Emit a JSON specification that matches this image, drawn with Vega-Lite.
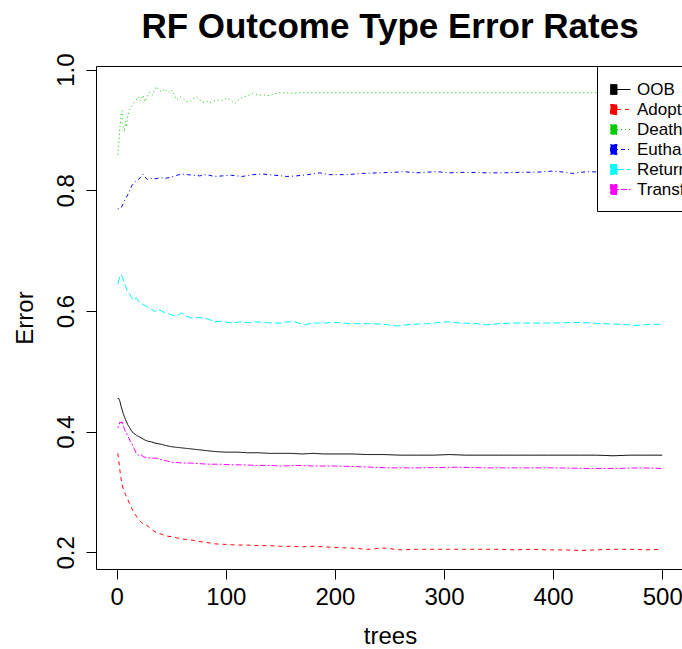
{
"$schema": "https://vega.github.io/schema/vega-lite/v6.json",
"width": 588, "height": 503,
"autosize": {"type": "none"},
"padding": {"left": 96, "top": 66, "right": 0, "bottom": 80},
"background": "white",
"title": {"text": "RF Outcome Type Error Rates", "font": "Liberation Sans", "fontSize": 35, "fontWeight": "bold", "color": "black", "anchor": "middle", "frame": "group", "baseline": "alphabetic", "offset": -20},
"config": {
  "view": {"stroke": "black", "strokeWidth": 1},
  "axis": {"domain": false, "grid": false, "ticks": true, "tickColor": "black", "tickSize": 10, "tickWidth": 1, "labelFont": "Liberation Sans", "labelFontSize": 24, "labelColor": "black", "titleFont": "Liberation Sans", "titleFontSize": 24, "titleFontWeight": "normal", "titleColor": "black"}
},
"data": {"values": [
{"t":1,"s":"OOB","v":0.455},{"t":2,"s":"OOB","v":0.455},{"t":3,"s":"OOB","v":0.450},{"t":4,"s":"OOB","v":0.442},{"t":5,"s":"OOB","v":0.436},{"t":6,"s":"OOB","v":0.430},{"t":8,"s":"OOB","v":0.420},{"t":10,"s":"OOB","v":0.412},{"t":12,"s":"OOB","v":0.406},{"t":14,"s":"OOB","v":0.400},{"t":16,"s":"OOB","v":0.397},{"t":18,"s":"OOB","v":0.394},{"t":20,"s":"OOB","v":0.392},{"t":23,"s":"OOB","v":0.389},{"t":26,"s":"OOB","v":0.386},{"t":29,"s":"OOB","v":0.384},{"t":32,"s":"OOB","v":0.383},{"t":35,"s":"OOB","v":0.381},{"t":38,"s":"OOB","v":0.380},{"t":41,"s":"OOB","v":0.379},{"t":45,"s":"OOB","v":0.377},{"t":50,"s":"OOB","v":0.375},{"t":55,"s":"OOB","v":0.374},{"t":60,"s":"OOB","v":0.373},{"t":65,"s":"OOB","v":0.372},{"t":70,"s":"OOB","v":0.371},{"t":75,"s":"OOB","v":0.370},{"t":80,"s":"OOB","v":0.369},{"t":90,"s":"OOB","v":0.367},{"t":100,"s":"OOB","v":0.366},{"t":110,"s":"OOB","v":0.366},{"t":120,"s":"OOB","v":0.365},{"t":130,"s":"OOB","v":0.365},{"t":140,"s":"OOB","v":0.364},{"t":150,"s":"OOB","v":0.364},{"t":160,"s":"OOB","v":0.364},{"t":170,"s":"OOB","v":0.363},{"t":180,"s":"OOB","v":0.364},{"t":190,"s":"OOB","v":0.363},{"t":200,"s":"OOB","v":0.363},{"t":215,"s":"OOB","v":0.363},{"t":230,"s":"OOB","v":0.362},{"t":245,"s":"OOB","v":0.362},{"t":260,"s":"OOB","v":0.361},{"t":275,"s":"OOB","v":0.361},{"t":290,"s":"OOB","v":0.361},{"t":305,"s":"OOB","v":0.362},{"t":320,"s":"OOB","v":0.361},{"t":335,"s":"OOB","v":0.361},{"t":350,"s":"OOB","v":0.361},{"t":365,"s":"OOB","v":0.361},{"t":380,"s":"OOB","v":0.361},{"t":395,"s":"OOB","v":0.361},{"t":410,"s":"OOB","v":0.361},{"t":425,"s":"OOB","v":0.361},{"t":440,"s":"OOB","v":0.361},{"t":455,"s":"OOB","v":0.360},{"t":470,"s":"OOB","v":0.361},{"t":485,"s":"OOB","v":0.361},{"t":500,"s":"OOB","v":0.361},
{"t":1,"s":"Adoption","v":0.364},{"t":2,"s":"Adoption","v":0.350},{"t":3,"s":"Adoption","v":0.335},{"t":4,"s":"Adoption","v":0.322},{"t":5,"s":"Adoption","v":0.313},{"t":6,"s":"Adoption","v":0.305},{"t":8,"s":"Adoption","v":0.296},{"t":10,"s":"Adoption","v":0.288},{"t":12,"s":"Adoption","v":0.280},{"t":14,"s":"Adoption","v":0.272},{"t":16,"s":"Adoption","v":0.266},{"t":18,"s":"Adoption","v":0.260},{"t":20,"s":"Adoption","v":0.255},{"t":23,"s":"Adoption","v":0.249},{"t":26,"s":"Adoption","v":0.246},{"t":29,"s":"Adoption","v":0.243},{"t":32,"s":"Adoption","v":0.238},{"t":35,"s":"Adoption","v":0.234},{"t":38,"s":"Adoption","v":0.232},{"t":41,"s":"Adoption","v":0.230},{"t":45,"s":"Adoption","v":0.227},{"t":50,"s":"Adoption","v":0.226},{"t":55,"s":"Adoption","v":0.224},{"t":60,"s":"Adoption","v":0.222},{"t":65,"s":"Adoption","v":0.221},{"t":70,"s":"Adoption","v":0.220},{"t":75,"s":"Adoption","v":0.218},{"t":80,"s":"Adoption","v":0.217},{"t":90,"s":"Adoption","v":0.214},{"t":100,"s":"Adoption","v":0.213},{"t":110,"s":"Adoption","v":0.212},{"t":120,"s":"Adoption","v":0.212},{"t":130,"s":"Adoption","v":0.211},{"t":140,"s":"Adoption","v":0.211},{"t":150,"s":"Adoption","v":0.210},{"t":160,"s":"Adoption","v":0.210},{"t":170,"s":"Adoption","v":0.209},{"t":180,"s":"Adoption","v":0.210},{"t":190,"s":"Adoption","v":0.209},{"t":200,"s":"Adoption","v":0.208},{"t":215,"s":"Adoption","v":0.207},{"t":230,"s":"Adoption","v":0.205},{"t":245,"s":"Adoption","v":0.207},{"t":260,"s":"Adoption","v":0.204},{"t":275,"s":"Adoption","v":0.205},{"t":290,"s":"Adoption","v":0.205},{"t":305,"s":"Adoption","v":0.205},{"t":320,"s":"Adoption","v":0.205},{"t":335,"s":"Adoption","v":0.205},{"t":350,"s":"Adoption","v":0.205},{"t":365,"s":"Adoption","v":0.204},{"t":380,"s":"Adoption","v":0.205},{"t":395,"s":"Adoption","v":0.204},{"t":410,"s":"Adoption","v":0.204},{"t":425,"s":"Adoption","v":0.203},{"t":440,"s":"Adoption","v":0.204},{"t":455,"s":"Adoption","v":0.205},{"t":470,"s":"Adoption","v":0.205},{"t":485,"s":"Adoption","v":0.204},{"t":500,"s":"Adoption","v":0.205},
{"t":1,"s":"Death","v":0.859},{"t":2,"s":"Death","v":0.880},{"t":3,"s":"Death","v":0.905},{"t":4,"s":"Death","v":0.925},{"t":5,"s":"Death","v":0.932},{"t":6,"s":"Death","v":0.905},{"t":7,"s":"Death","v":0.897},{"t":8,"s":"Death","v":0.915},{"t":9,"s":"Death","v":0.905},{"t":10,"s":"Death","v":0.922},{"t":12,"s":"Death","v":0.934},{"t":14,"s":"Death","v":0.940},{"t":16,"s":"Death","v":0.945},{"t":18,"s":"Death","v":0.950},{"t":20,"s":"Death","v":0.955},{"t":22,"s":"Death","v":0.948},{"t":24,"s":"Death","v":0.958},{"t":26,"s":"Death","v":0.947},{"t":28,"s":"Death","v":0.955},{"t":30,"s":"Death","v":0.963},{"t":33,"s":"Death","v":0.958},{"t":36,"s":"Death","v":0.972},{"t":39,"s":"Death","v":0.966},{"t":41,"s":"Death","v":0.963},{"t":44,"s":"Death","v":0.968},{"t":47,"s":"Death","v":0.962},{"t":50,"s":"Death","v":0.967},{"t":53,"s":"Death","v":0.958},{"t":55,"s":"Death","v":0.950},{"t":58,"s":"Death","v":0.955},{"t":61,"s":"Death","v":0.952},{"t":64,"s":"Death","v":0.947},{"t":67,"s":"Death","v":0.947},{"t":70,"s":"Death","v":0.952},{"t":73,"s":"Death","v":0.955},{"t":76,"s":"Death","v":0.950},{"t":79,"s":"Death","v":0.946},{"t":82,"s":"Death","v":0.948},{"t":85,"s":"Death","v":0.945},{"t":88,"s":"Death","v":0.947},{"t":92,"s":"Death","v":0.950},{"t":96,"s":"Death","v":0.948},{"t":101,"s":"Death","v":0.953},{"t":104,"s":"Death","v":0.950},{"t":108,"s":"Death","v":0.944},{"t":112,"s":"Death","v":0.950},{"t":116,"s":"Death","v":0.955},{"t":120,"s":"Death","v":0.957},{"t":125,"s":"Death","v":0.961},{"t":130,"s":"Death","v":0.958},{"t":135,"s":"Death","v":0.958},{"t":140,"s":"Death","v":0.957},{"t":145,"s":"Death","v":0.960},{"t":150,"s":"Death","v":0.962},{"t":160,"s":"Death","v":0.961},{"t":170,"s":"Death","v":0.962},{"t":300,"s":"Death","v":0.962},{"t":500,"s":"Death","v":0.962},
{"t":1,"s":"Euthanasia","v":0.769},{"t":2,"s":"Euthanasia","v":0.770},{"t":4,"s":"Euthanasia","v":0.771},{"t":6,"s":"Euthanasia","v":0.778},{"t":8,"s":"Euthanasia","v":0.786},{"t":10,"s":"Euthanasia","v":0.792},{"t":12,"s":"Euthanasia","v":0.800},{"t":14,"s":"Euthanasia","v":0.808},{"t":16,"s":"Euthanasia","v":0.813},{"t":18,"s":"Euthanasia","v":0.816},{"t":20,"s":"Euthanasia","v":0.818},{"t":22,"s":"Euthanasia","v":0.822},{"t":24,"s":"Euthanasia","v":0.827},{"t":26,"s":"Euthanasia","v":0.822},{"t":28,"s":"Euthanasia","v":0.818},{"t":31,"s":"Euthanasia","v":0.820},{"t":35,"s":"Euthanasia","v":0.819},{"t":40,"s":"Euthanasia","v":0.821},{"t":45,"s":"Euthanasia","v":0.820},{"t":50,"s":"Euthanasia","v":0.822},{"t":55,"s":"Euthanasia","v":0.825},{"t":60,"s":"Euthanasia","v":0.827},{"t":65,"s":"Euthanasia","v":0.826},{"t":70,"s":"Euthanasia","v":0.825},{"t":76,"s":"Euthanasia","v":0.824},{"t":82,"s":"Euthanasia","v":0.826},{"t":90,"s":"Euthanasia","v":0.823},{"t":97,"s":"Euthanasia","v":0.824},{"t":105,"s":"Euthanasia","v":0.825},{"t":115,"s":"Euthanasia","v":0.823},{"t":125,"s":"Euthanasia","v":0.826},{"t":134,"s":"Euthanasia","v":0.827},{"t":145,"s":"Euthanasia","v":0.825},{"t":156,"s":"Euthanasia","v":0.823},{"t":165,"s":"Euthanasia","v":0.824},{"t":175,"s":"Euthanasia","v":0.826},{"t":186,"s":"Euthanasia","v":0.829},{"t":195,"s":"Euthanasia","v":0.826},{"t":211,"s":"Euthanasia","v":0.826},{"t":225,"s":"Euthanasia","v":0.828},{"t":240,"s":"Euthanasia","v":0.829},{"t":255,"s":"Euthanasia","v":0.830},{"t":263,"s":"Euthanasia","v":0.831},{"t":275,"s":"Euthanasia","v":0.829},{"t":293,"s":"Euthanasia","v":0.831},{"t":305,"s":"Euthanasia","v":0.829},{"t":320,"s":"Euthanasia","v":0.830},{"t":339,"s":"Euthanasia","v":0.829},{"t":355,"s":"Euthanasia","v":0.829},{"t":370,"s":"Euthanasia","v":0.830},{"t":385,"s":"Euthanasia","v":0.830},{"t":400,"s":"Euthanasia","v":0.832},{"t":410,"s":"Euthanasia","v":0.830},{"t":418,"s":"Euthanasia","v":0.828},{"t":431,"s":"Euthanasia","v":0.831},{"t":445,"s":"Euthanasia","v":0.830},{"t":460,"s":"Euthanasia","v":0.829},{"t":475,"s":"Euthanasia","v":0.830},{"t":490,"s":"Euthanasia","v":0.829},{"t":500,"s":"Euthanasia","v":0.830},
{"t":1,"s":"Return_to_owner","v":0.645},{"t":2,"s":"Return_to_owner","v":0.652},{"t":3,"s":"Return_to_owner","v":0.658},{"t":4,"s":"Return_to_owner","v":0.660},{"t":5,"s":"Return_to_owner","v":0.657},{"t":6,"s":"Return_to_owner","v":0.652},{"t":7,"s":"Return_to_owner","v":0.648},{"t":8,"s":"Return_to_owner","v":0.642},{"t":10,"s":"Return_to_owner","v":0.632},{"t":12,"s":"Return_to_owner","v":0.628},{"t":15,"s":"Return_to_owner","v":0.618},{"t":18,"s":"Return_to_owner","v":0.621},{"t":20,"s":"Return_to_owner","v":0.616},{"t":23,"s":"Return_to_owner","v":0.612},{"t":26,"s":"Return_to_owner","v":0.609},{"t":28,"s":"Return_to_owner","v":0.607},{"t":31,"s":"Return_to_owner","v":0.604},{"t":35,"s":"Return_to_owner","v":0.599},{"t":38,"s":"Return_to_owner","v":0.603},{"t":41,"s":"Return_to_owner","v":0.600},{"t":44,"s":"Return_to_owner","v":0.597},{"t":48,"s":"Return_to_owner","v":0.595},{"t":53,"s":"Return_to_owner","v":0.592},{"t":57,"s":"Return_to_owner","v":0.594},{"t":60,"s":"Return_to_owner","v":0.597},{"t":63,"s":"Return_to_owner","v":0.592},{"t":66,"s":"Return_to_owner","v":0.590},{"t":69,"s":"Return_to_owner","v":0.588},{"t":75,"s":"Return_to_owner","v":0.589},{"t":81,"s":"Return_to_owner","v":0.588},{"t":86,"s":"Return_to_owner","v":0.585},{"t":90,"s":"Return_to_owner","v":0.582},{"t":95,"s":"Return_to_owner","v":0.583},{"t":100,"s":"Return_to_owner","v":0.582},{"t":105,"s":"Return_to_owner","v":0.580},{"t":113,"s":"Return_to_owner","v":0.582},{"t":120,"s":"Return_to_owner","v":0.581},{"t":127,"s":"Return_to_owner","v":0.582},{"t":135,"s":"Return_to_owner","v":0.581},{"t":142,"s":"Return_to_owner","v":0.580},{"t":150,"s":"Return_to_owner","v":0.580},{"t":157,"s":"Return_to_owner","v":0.582},{"t":163,"s":"Return_to_owner","v":0.582},{"t":172,"s":"Return_to_owner","v":0.577},{"t":180,"s":"Return_to_owner","v":0.580},{"t":190,"s":"Return_to_owner","v":0.580},{"t":200,"s":"Return_to_owner","v":0.581},{"t":215,"s":"Return_to_owner","v":0.579},{"t":230,"s":"Return_to_owner","v":0.579},{"t":245,"s":"Return_to_owner","v":0.578},{"t":257,"s":"Return_to_owner","v":0.575},{"t":270,"s":"Return_to_owner","v":0.578},{"t":285,"s":"Return_to_owner","v":0.579},{"t":303,"s":"Return_to_owner","v":0.582},{"t":315,"s":"Return_to_owner","v":0.580},{"t":330,"s":"Return_to_owner","v":0.579},{"t":339,"s":"Return_to_owner","v":0.577},{"t":350,"s":"Return_to_owner","v":0.579},{"t":363,"s":"Return_to_owner","v":0.580},{"t":380,"s":"Return_to_owner","v":0.580},{"t":400,"s":"Return_to_owner","v":0.580},{"t":425,"s":"Return_to_owner","v":0.581},{"t":445,"s":"Return_to_owner","v":0.579},{"t":460,"s":"Return_to_owner","v":0.578},{"t":477,"s":"Return_to_owner","v":0.576},{"t":490,"s":"Return_to_owner","v":0.578},{"t":500,"s":"Return_to_owner","v":0.578},
{"t":1,"s":"Transfer","v":0.406},{"t":2,"s":"Transfer","v":0.410},{"t":3,"s":"Transfer","v":0.416},{"t":4,"s":"Transfer","v":0.414},{"t":5,"s":"Transfer","v":0.418},{"t":6,"s":"Transfer","v":0.410},{"t":7,"s":"Transfer","v":0.405},{"t":8,"s":"Transfer","v":0.400},{"t":10,"s":"Transfer","v":0.394},{"t":12,"s":"Transfer","v":0.386},{"t":14,"s":"Transfer","v":0.380},{"t":16,"s":"Transfer","v":0.372},{"t":18,"s":"Transfer","v":0.364},{"t":20,"s":"Transfer","v":0.361},{"t":22,"s":"Transfer","v":0.362},{"t":25,"s":"Transfer","v":0.358},{"t":28,"s":"Transfer","v":0.357},{"t":32,"s":"Transfer","v":0.356},{"t":37,"s":"Transfer","v":0.356},{"t":42,"s":"Transfer","v":0.353},{"t":47,"s":"Transfer","v":0.351},{"t":51,"s":"Transfer","v":0.349},{"t":55,"s":"Transfer","v":0.349},{"t":60,"s":"Transfer","v":0.348},{"t":67,"s":"Transfer","v":0.348},{"t":75,"s":"Transfer","v":0.347},{"t":85,"s":"Transfer","v":0.346},{"t":95,"s":"Transfer","v":0.346},{"t":105,"s":"Transfer","v":0.345},{"t":115,"s":"Transfer","v":0.345},{"t":128,"s":"Transfer","v":0.344},{"t":140,"s":"Transfer","v":0.344},{"t":150,"s":"Transfer","v":0.343},{"t":166,"s":"Transfer","v":0.344},{"t":180,"s":"Transfer","v":0.343},{"t":200,"s":"Transfer","v":0.343},{"t":220,"s":"Transfer","v":0.342},{"t":250,"s":"Transfer","v":0.340},{"t":280,"s":"Transfer","v":0.340},{"t":310,"s":"Transfer","v":0.341},{"t":340,"s":"Transfer","v":0.340},{"t":370,"s":"Transfer","v":0.340},{"t":400,"s":"Transfer","v":0.340},{"t":430,"s":"Transfer","v":0.339},{"t":460,"s":"Transfer","v":0.339},{"t":480,"s":"Transfer","v":0.340},{"t":500,"s":"Transfer","v":0.339}
]},
"mark": {"type": "line", "strokeWidth": 1},
"encoding": {
  "x": {"field": "t", "type": "quantitative", "scale": {"domain": [-18.96, 519.96], "nice": false, "zero": false}, "axis": {"values": [0, 100, 200, 300, 400, 500], "title": "trees", "labelPadding": 6, "titlePadding": 15}},
  "y": {"field": "v", "type": "quantitative", "scale": {"domain": [0.1723, 1.0061], "nice": false, "zero": false}, "axis": {"values": [0.2, 0.4, 0.6, 0.8, 1.0], "format": ".1f", "title": "Error", "labelAngle": -90, "labelAlign": "center", "labelBaseline": "alphabetic", "labelPadding": 13, "titlePadding": 17}},
  "color": {"field": "s", "type": "nominal", "scale": {"domain": ["OOB", "Adoption", "Death", "Euthanasia", "Return_to_owner", "Transfer"], "range": ["#000000", "#FF0000", "#00CD00", "#0000FF", "#00FFFF", "#FF00FF"]},
    "legend": {"title": null, "orient": "none", "legendX": 501, "legendY": 0, "strokeColor": "black", "fillColor": "white", "padding": 13, "rowPadding": 1, "cornerRadius": 0, "symbolType": "M-1,-0.5L-0.35,-0.5L-0.35,0.5L-1,0.5Z M-0.35,0L1,0", "symbolSize": 400, "symbolStrokeWidth": 1, "labelFont": "Liberation Sans", "labelFontSize": 17, "labelColor": "black", "labelOffset": 6, "labelLimit": 0,
      "encode": {"symbols": {"update": {"stroke": {"value": "black"}, "fill": {"scale": "color", "field": "value"}, "fillOpacity": {"value": 1}, "strokeWidth": {"value": 1}}}}}},
  "strokeDash": {"field": "s", "type": "nominal", "scale": {"domain": ["OOB", "Adoption", "Death", "Euthanasia", "Return_to_owner", "Transfer"], "range": [[1, 0], [4, 4], [1, 3], [1, 3, 4, 3], [7, 3], [2, 2, 6, 2]]}}
}
}
